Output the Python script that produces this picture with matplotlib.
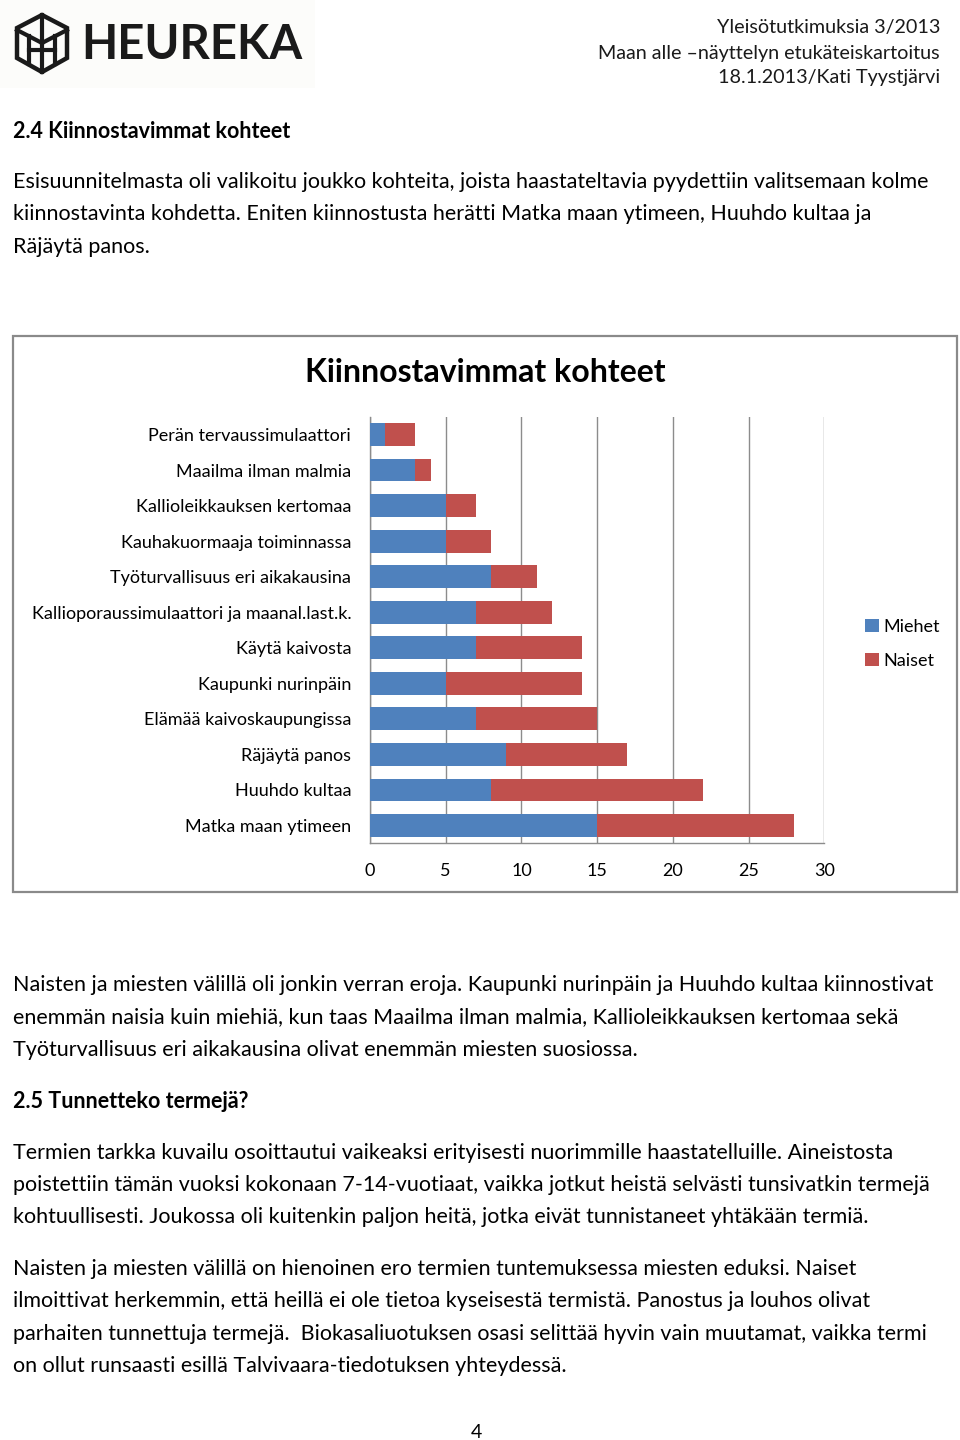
import matplotlib
matplotlib.use("Agg")
import matplotlib.pyplot as plt
from matplotlib.patches import Rectangle, Polygon
from matplotlib.lines import Line2D

W, H = 960, 1440
plt.rcParams['font.family'] = ['Lato', 'DejaVu Sans']

categories = [
    "Perän tervaussimulaattori",
    "Maailma ilman malmia",
    "Kallioleikkauksen kertomaa",
    "Kauhakuormaaja toiminnassa",
    "Työturvallisuus eri aikakausina",
    "Kallioporaussimulaattori ja maanal.last.k.",
    "Käytä kaivosta",
    "Kaupunki nurinpäin",
    "Elämää kaivoskaupungissa",
    "Räjäytä panos",
    "Huuhdo kultaa",
    "Matka maan ytimeen",
]
miehet = [1, 3, 5, 5, 8, 7, 7, 5, 7, 9, 8, 15]
naiset = [2, 1, 2, 3, 3, 5, 7, 9, 8, 8, 14, 13]
xticks = [0, 5, 10, 15, 20, 25, 30]
series_names = ["Miehet", "Naiset"]
chart_title = "Kiinnostavimmat kohteet"

header_lines = ["Yleisötutkimuksia 3/2013",
                "Maan alle –näyttelyn etukäteiskartoitus",
                "18.1.2013/Kati Tyystjärvi"]
heading1 = "2.4 Kiinnostavimmat kohteet"
para1 = ["Esisuunnitelmasta oli valikoitu joukko kohteita, joista haastateltavia pyydettiin valitsemaan kolme",
         "kiinnostavinta kohdetta. Eniten kiinnostusta herätti Matka maan ytimeen, Huuhdo kultaa ja",
         "Räjäytä panos."]
para2 = ["Naisten ja miesten välillä oli jonkin verran eroja. Kaupunki nurinpäin ja Huuhdo kultaa kiinnostivat",
         "enemmän naisia kuin miehiä, kun taas Maailma ilman malmia, Kallioleikkauksen kertomaa sekä",
         "Työturvallisuus eri aikakausina olivat enemmän miesten suosiossa."]
heading2 = "2.5 Tunnetteko termejä?"
para3 = ["Termien tarkka kuvailu osoittautui vaikeaksi erityisesti nuorimmille haastatelluille. Aineistosta",
         "poistettiin tämän vuoksi kokonaan 7-14-vuotiaat, vaikka jotkut heistä selvästi tunsivatkin termejä",
         "kohtuullisesti. Joukossa oli kuitenkin paljon heitä, jotka eivät tunnistaneet yhtäkään termiä."]
para4 = ["Naisten ja miesten välillä on hienoinen ero termien tuntemuksessa miesten eduksi. Naiset",
         "ilmoittivat herkemmin, että heillä ei ole tietoa kyseisestä termistä. Panostus ja louhos olivat",
         "parhaiten tunnettuja termejä.  Biokasaliuotuksen osasi selittää hyvin vain muutamat, vaikka termi",
         "on ollut runsaasti esillä Talvivaara-tiedotuksen yhteydessä."]

BLUE = "#4F81BD"
RED = "#C0504D"
GRID = "#8C8C8C"
BODY = 15.5

fig = plt.figure(figsize=(W / 100, H / 100), dpi=100)
fig.patch.set_facecolor("white")


def fx(x):
    return x / W


def fy(y):
    return 1 - y / H


def txt(x, y, s, size=BODY, ha="left", weight="normal", color="#000000"):
    fig.text(fx(x), fy(y), s, fontsize=size, ha=ha, va="center",
             weight=weight, color=color)


# ---------- logo ----------
bg = fig.add_axes([0, fy(88), fx(315), 88 / H])
bg.set_xlim(0, 315)
bg.set_ylim(88, 0)
bg.axis("off")
bg.add_patch(Rectangle((0, 0), 315, 88, facecolor="#FCFCFA", edgecolor="none"))
hexpts = [(42, 15), (67, 28), (67, 58), (42, 72), (17, 58), (17, 28)]
bg.add_patch(Polygon(hexpts, closed=True, fill=False, edgecolor="#1a1a1a", lw=3.2))
for seg in [[(42, 15), (42, 43)], [(42, 43), (67, 30)], [(42, 43), (17, 30)],
            [(29, 36), (29, 64)], [(55, 36), (55, 64)], [(29, 50), (55, 50)],
            [(42, 43), (42, 72)]]:
    xs, ys = zip(*seg)
    bg.add_line(Line2D(xs, ys, color="#1a1a1a", lw=3.0))
bg.text(81, 45, "HEUREKA", fontsize=34, weight="bold", color="#1a1a1a",
        va="center", ha="left", family="Lato")

# ---------- header ----------
for i, line in enumerate(header_lines):
    txt(940, 28 + 25 * i, line, size=14.2, ha="right", color="#1a1a1a")

# ---------- body text ----------
txt(13, 131, heading1, size=15.5, weight="bold")
for i, line in enumerate(para1):
    txt(13, 182 + 32.5 * i, line)
for i, line in enumerate(para2):
    txt(13, 985 + 32.5 * i, line)
txt(13, 1101, heading2, size=15.5, weight="bold")
for i, line in enumerate(para3):
    txt(13, 1153 + 32.2 * i, line)
for i, line in enumerate(para4):
    txt(13, 1269 + 32.4 * i, line)
txt(476, 1432, "4", size=14, ha="center")

# ---------- chart frame ----------
fig.add_artist(Rectangle((fx(13), fy(892)), fx(957) - fx(13), fy(336) - fy(892),
                         transform=fig.transFigure, fill=False,
                         edgecolor="#8A8A8A", lw=1.6))
txt(485, 372, chart_title, size=23, ha="center", weight="bold")

x0, x1, y0, y1 = 370, 824.3, 416.7, 843.3
ax = fig.add_axes([fx(x0), fy(y1), fx(x1) - fx(x0), (y1 - y0) / H])
n = len(categories)
ypos = list(range(n))
ax.barh(ypos, miehet, height=0.64, color=BLUE, label=series_names[0], zorder=3)
ax.barh(ypos, naiset, left=miehet, height=0.64, color=RED, label=series_names[1], zorder=3)
ax.set_xlim(0, 30)
ax.set_ylim(n - 0.5, -0.5)
ax.set_xticks(xticks)
ax.set_xticklabels([str(t) for t in xticks], fontsize=13)
ax.set_yticks(ypos)
ax.set_yticklabels(categories, fontsize=13.0)
ax.tick_params(axis="x", length=0, pad=14)
ax.tick_params(axis="y", length=0, pad=13.5)
ax.grid(axis="x", color=GRID, lw=1.0, zorder=0)
for s in ["top", "right"]:
    ax.spines[s].set_visible(False)
for s in ["left", "bottom"]:
    ax.spines[s].set_color(GRID)
    ax.spines[s].set_linewidth(1.0)
ax.set_facecolor("white")

# legend
leg = fig.legend(loc="center left", bbox_to_anchor=(fx(858), fy(644)),
                 frameon=False, fontsize=13, handlelength=0.75, handleheight=0.75,
                 handletextpad=0.25, labelspacing=1.0, borderaxespad=0)

fig.savefig("out.png", dpi=100, facecolor="white")
